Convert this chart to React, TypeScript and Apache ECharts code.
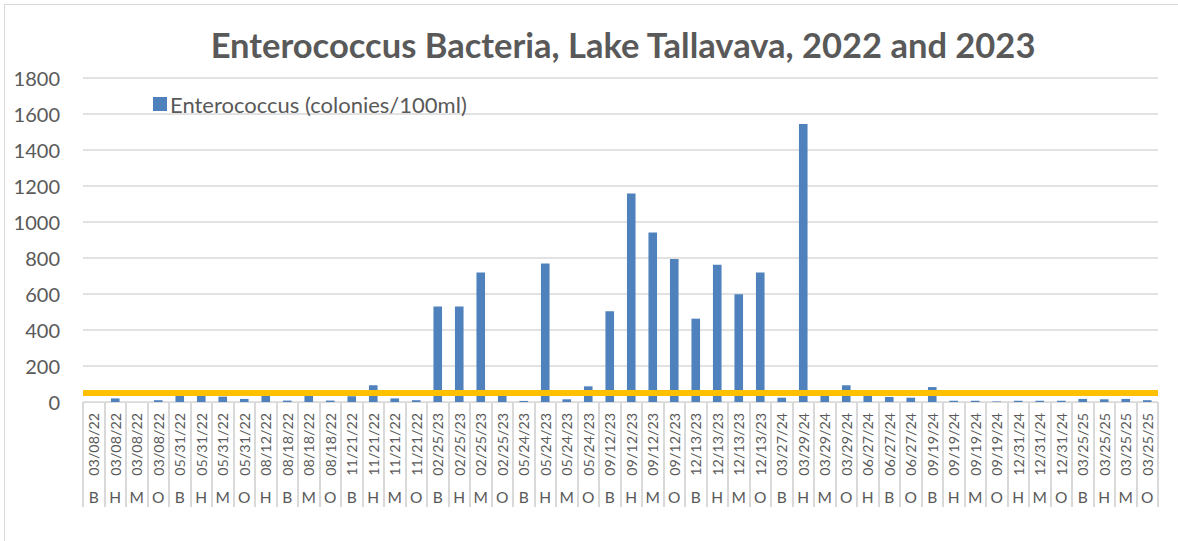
import React, { useEffect, useRef } from "react";
import * as echarts from "echarts";

const dates = [
  "03/08/22", "03/08/22", "03/08/22", "03/08/22",
  "05/31/22", "05/31/22", "05/31/22", "05/31/22",
  "08/12/22", "08/18/22", "08/18/22", "08/18/22",
  "11/21/22", "11/21/22", "11/21/22", "11/21/22",
  "02/25/23", "02/25/23", "02/25/23", "02/25/23",
  "05/24/23", "05/24/23", "05/24/23", "05/24/23",
  "09/12/23", "09/12/23", "09/12/23", "09/12/23",
  "12/13/23", "12/13/23", "12/13/23", "12/13/23",
  "03/27/24", "03/29/24", "03/29/24", "03/29/24",
  "06/27/24", "06/27/24", "06/27/24",
  "09/19/24", "09/19/24", "09/19/24", "09/19/24",
  "12/31/24", "12/31/24", "12/31/24",
  "03/25/25", "03/25/25", "03/25/25", "03/25/25",
];

const sites = [
  "B", "H", "M", "O",
  "B", "H", "M", "O",
  "H", "B", "M", "O",
  "B", "H", "M", "O",
  "B", "H", "M", "O",
  "B", "H", "M", "O",
  "B", "H", "M", "O",
  "B", "H", "M", "O",
  "B", "H", "M", "O",
  "H", "B", "O",
  "B", "H", "M", "O",
  "H", "M", "O",
  "B", "H", "M", "O",
];

const enterococcus = [
  0, 20, 0, 10,
  45, 45, 30, 17,
  45, 8, 45, 8,
  32, 93, 20, 10,
  530, 530, 720, 40,
  6, 770, 15, 87,
  504, 1158, 941, 795,
  463, 763, 598, 720,
  24, 1545, 40, 93,
  40, 28, 24,
  83, 7, 7, 3,
  7, 7, 7,
  17, 15, 17, 10,
];

const threshold = 50;

const yTicks = { min: 0, max: 1800, interval: 200 };

const seriesName = "Enterococcus (colonies/100ml)";
const titleText = "Enterococcus Bacteria, Lake Tallavava, 2022 and 2023";

export default function App() {
  const ref = useRef<HTMLDivElement>(null);

  useEffect(() => {
    if (!ref.current) return;
    const chart = echarts.init(ref.current, undefined, { renderer: "svg" });
    const grey = "#595959";
    const light = "#d9d9d9";
    chart.setOption({
      animation: false,
      textStyle: { fontFamily: "Lato, 'Open Sans', sans-serif" },
      title: {
        text: titleText,
        left: 618,
        textAlign: "center",
        top: 22,
        textStyle: {
          fontSize: 34.5,
          fontWeight: "bold",
          color: grey,
          fontFamily: "Lato, 'Open Sans', sans-serif",
        },
      },
      legend: {
        left: 148,
        top: 88,
        icon: "rect",
        itemWidth: 14,
        itemHeight: 14,
        itemGap: 4,
        textStyle: { fontSize: 22, color: grey, padding: [0, 0, 0, -2] },
        data: [seriesName],
      },
      grid: { left: 83, right: 20, top: 78, bottom: 139, containLabel: false },
      xAxis: [
        {
          type: "category",
          data: dates,
          position: "bottom",
          axisLine: { show: true, lineStyle: { color: light, width: 1 } },
          axisTick: {
            show: true,
            interval: 0,
            length: 105,
            lineStyle: { color: light, width: 2 },
          },
          axisLabel: {
            interval: 0,
            rotate: 90,
            fontSize: 14.3,
            color: grey,
            margin: 11,
          },
          splitLine: { show: false },
        },
        {
          type: "category",
          data: sites,
          position: "bottom",
          axisLine: { show: false },
          axisTick: { show: false },
          axisLabel: {
            interval: 0,
            fontSize: 15.5,
            color: grey,
            margin: 87,
          },
          splitLine: { show: false },
        },
      ],
      yAxis: {
        type: "value",
        min: yTicks.min,
        max: yTicks.max,
        interval: yTicks.interval,
        axisLine: { show: false },
        axisTick: { show: false },
        axisLabel: {
          fontSize: 20,
          color: grey,
          margin: 23,
          formatter: (v: number) => String(v),
        },
        splitLine: { show: true, lineStyle: { color: light, width: 1.5 } },
      },
      series: [
        {
          name: seriesName,
          type: "bar",
          xAxisIndex: 0,
          data: enterococcus,
          barWidth: "40%",
          itemStyle: { color: "#4f81bd" },
          markLine: {
            silent: true,
            symbol: "none",
            label: { show: false },
            lineStyle: { color: "#ffc000", width: 6, type: "solid" },
            data: [{ yAxis: threshold }],
          },
        },
      ],
    });
    return () => chart.dispose();
  }, []);

  return (
    <div
      style={{
        position: "fixed",
        left: 0,
        top: 0,
        width: 1178,
        height: 541,
        background: "#fff",
        overflow: "hidden",
      }}
    >
      <div
        style={{
          position: "absolute",
          left: 4,
          top: 4,
          width: 1300,
          height: 700,
          border: "1px solid #d9d9d9",
          boxSizing: "border-box",
        }}
      />
      <div
        ref={ref}
        style={{ position: "absolute", left: 0, top: 0, width: 1178, height: 541 }}
      />
    </div>
  );
}
